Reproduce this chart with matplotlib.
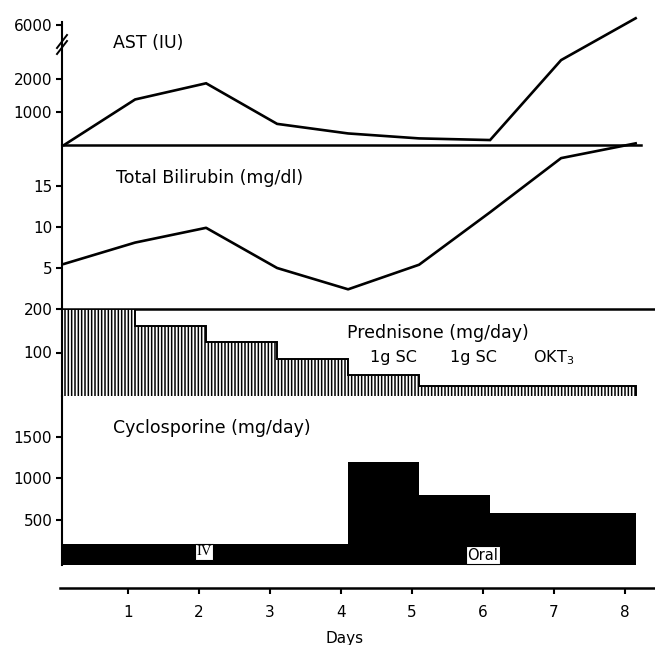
import numpy as np
import matplotlib
matplotlib.use("Agg")
import matplotlib.pyplot as plt

plt.rcParams['font.family'] = ['DejaVu Sans']
plt.rcParams['mathtext.fontset'] = 'dejavusans'
plt.rcParams['hatch.color'] = 'black'
plt.rcParams['hatch.linewidth'] = 1.1

# sampling days (one point per day, just after day mark)
days = [0.1, 1.1, 2.1, 3.1, 4.1, 5.1, 6.1, 7.1, 8.15]
ast = [0, 1380, 1870, 640, 350, 200, 150, 3400, 6500]
bilirubin = [5.5, 8.1, 9.9, 5.0, 2.4, 5.4, 11.8, 18.4, 20.2]

# dosing intervals
dose_edges = [0.07, 1.1, 2.1, 3.1, 4.1, 5.1, 6.1, 7.1, 8.15]
prednisone = [200, 160, 125, 85, 48, 24, 24, 24]
cyclosporine = [200, 200, 200, 200, 1200, 800, 580, 580]

day_ticks = [1, 2, 3, 4, 5, 6, 7, 8]

W, H = 655, 645
fig = plt.figure(figsize=(W / 100, H / 100), dpi=100)

# pixel -> day mapping of the original drawing
def px2day(px):
    return (px - 57) / 71.0

def panel(top, bottom, left=62, right=655):
    return fig.add_axes([left / W, 1 - bottom / H, (right - left) / W, (bottom - top) / H])

LW = 1.9
SPW = 1.5

def style(ax):
    ax.set_xlim(px2day(62), px2day(655))
    for s in ['top', 'right', 'bottom']:
        ax.spines[s].set_visible(False)
    ax.spines['left'].set_linewidth(SPW)
    ax.set_xticks([])
    ax.tick_params(axis='y', direction='out', length=4, width=SPW, labelsize=11, pad=3)
    ax.patch.set_alpha(0)

# AST with broken axis above 2000
k = 13.5 / 33.0
def fwd(v):
    v = np.asarray(v, float)
    return np.where(v <= 2000, v, 2000 + (v - 2000) * k)
def inv(t):
    t = np.asarray(t, float)
    return np.where(t <= 2000, t, 2000 + (t - 2000) / k)

ax1 = panel(15, 145)
style(ax1)
ax1.set_yscale('function', functions=(fwd, inv))
ax1.set_ylim(0, float(inv(130 / 33.0 * 1000)))
ax1.set_yticks([1000, 2000, 6000])
ax1.set_yticklabels(['1000', '2000', '6000'])
ax1.plot(days, ast, color='black', lw=LW, clip_on=False, solid_joinstyle='miter')
ax1.spines['bottom'].set_visible(True)
ax1.spines['bottom'].set_linewidth(SPW + 0.3)
ax1.spines['bottom'].set_bounds(px2day(62), px2day(641))
ax1.spines['left'].set_bounds(0, 6220)
ax1.text(0.086, 0.785, 'AST (IU)', transform=ax1.transAxes, fontsize=12.5, va='center')
# break marks
def pax(px, py):
    return ((px - 62) / 593.0, (145 - py) / 130.0)
x0, y0 = pax(62, 49)
x1, y1 = pax(62, 42)
ax1.plot([x0, x1], [y0, y1], color='white', lw=4, transform=ax1.transAxes, clip_on=False)
for dy in (0, 6):
    a = pax(57, 54 - dy)
    b = pax(67, 41 - dy)
    ax1.plot([a[0], b[0]], [a[1], b[1]], color='black', lw=1.4,
             transform=ax1.transAxes, clip_on=False)

# Total bilirubin
ax2 = panel(145, 309)
style(ax2)
ax2.set_ylim(0, 20)
ax2.set_yticks([5, 10, 15])
ax2.plot(days, bilirubin, color='black', lw=LW, clip_on=False)
ax2.spines['bottom'].set_visible(True)
ax2.spines['bottom'].set_linewidth(SPW + 0.3)
ax2.text(0.091, 0.80, 'Total Bilirubin (mg/dl)', transform=ax2.transAxes,
         fontsize=12.5, va='center')

# Prednisone
ax3 = panel(309, 396)
style(ax3)
ax3.set_ylim(0, 200)
ax3.set_yticks([100, 200])
ax3.stairs(prednisone, dose_edges, baseline=0, fill=True, facecolor='white',
           edgecolor='black', hatch='|||||', linewidth=1.4)
ax3.text(0.481, 0.724, 'Prednisone (mg/day)', transform=ax3.transAxes,
         fontsize=12.5, va='center')
for xa, s in [(0.519, '1g SC'), (0.654, '1g SC'), (0.794, 'OKT$_3$')]:
    ax3.text(xa, 0.437, s, transform=ax3.transAxes, fontsize=11.5, va='center')

# Cyclosporine
ax4 = panel(396, 565)
style(ax4)
ax4.set_ylim(-50, 2000)
ax4.set_yticks([500, 1000, 1500])
ax4.stairs(cyclosporine, dose_edges, baseline=-50, fill=True, color='black')
ax4.text(0.086, 0.81, 'Cyclosporine (mg/day)', transform=ax4.transAxes,
         fontsize=12.5, va='center')
ax4.text(px2day(204), 0.077, 'IV', transform=ax4.get_xaxis_transform(), ha='center',
         va='center', fontsize=10.5, family='Liberation Serif',
         bbox=dict(facecolor='white', edgecolor='black', pad=1.0, lw=0.8))
ax4.text(px2day(483), 0.059, 'Oral', transform=ax4.get_xaxis_transform(), ha='center',
         va='center', fontsize=10.5,
         bbox=dict(facecolor='white', edgecolor='black', pad=1.0, lw=0.8))

# bottom day axis
ax5 = panel(587, 588, left=60)
ax5.set_xlim(px2day(60), px2day(655))
ax5.set_ylim(0, 1)
for s in ['top', 'right', 'left']:
    ax5.spines[s].set_visible(False)
ax5.spines['bottom'].set_linewidth(SPW + 0.3)
ax5.set_yticks([])
ax5.set_xticks(day_ticks)
ax5.tick_params(axis='x', direction='out', length=4, width=SPW, labelsize=11, pad=8)
fig.text(345 / W, 1 - 638 / H, 'Days', ha='center', va='center', fontsize=11)

fig.savefig('out.png', dpi=100)
